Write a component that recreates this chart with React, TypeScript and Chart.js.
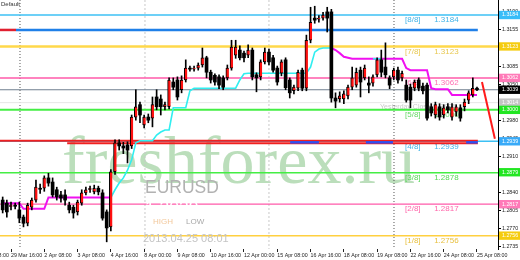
import React, { useEffect, useRef } from 'react';
import { Chart, registerables } from 'chart.js';

Chart.register(...registerables);

// ---- data (H4 bars, index 0 .. 114) ----
const opens = [
  1.2825, 1.2819, 1.2812, 1.2815, 1.2806, 1.2792, 1.2780, 1.2811, 1.2825, 1.2848,
  1.2848, 1.2868, 1.2860, 1.2845, 1.2835, 1.2835, 1.2815, 1.2811, 1.2802, 1.2819,
  1.2839, 1.2845, 1.2841, 1.2848, 1.2839, 1.2802, 1.2773, 1.2880, 1.2936, 1.2930,
  1.2932, 1.2930, 1.2986, 1.3010, 1.2971, 1.2986, 1.2984, 1.3025, 1.3021, 1.3006,
  1.3006, 1.3054, 1.3058, 1.3039, 1.3058, 1.3081, 1.3079, 1.3081, 1.3087, 1.3101,
  1.3073, 1.3067, 1.3064, 1.3062, 1.3062, 1.3081, 1.3106, 1.3116, 1.3110, 1.3106,
  1.3116, 1.3068, 1.3064, 1.3093, 1.3112, 1.3101, 1.3081, 1.3071, 1.3097, 1.3058,
  1.3037, 1.3042, 1.3077, 1.3042, 1.3135, 1.3178, 1.3176, 1.3178, 1.3190, 1.3190,
  1.3023, 1.3021, 1.3021, 1.3027, 1.3044, 1.3048, 1.3077, 1.3062, 1.3052, 1.3052,
  1.3068, 1.3097, 1.3083, 1.3062, 1.3064, 1.3077, 1.3062, 1.3048, 1.3044, 1.3042,
  1.3058, 1.3046, 1.3048, 1.3006, 1.2990, 1.3006, 1.2990, 1.3006, 1.2986, 1.2996,
  1.3004, 1.3006, 1.3019, 1.3029, 1.3042,
];
const highs = [
  1.2831, 1.2825, 1.2821, 1.2819, 1.2821, 1.2796, 1.2819, 1.2829, 1.2864, 1.2856,
  1.2872, 1.2877, 1.2868, 1.2850, 1.2842, 1.2845, 1.2821, 1.2815, 1.2825, 1.2845,
  1.2850, 1.2852, 1.2854, 1.2852, 1.2845, 1.2806, 1.2884, 1.2942, 1.2942, 1.2937,
  1.2938, 1.2990, 1.3039, 1.3015, 1.2990, 1.2992, 1.3025, 1.3039, 1.3029, 1.3015,
  1.3062, 1.3062, 1.3064, 1.3066, 1.3097, 1.3085, 1.3085, 1.3091, 1.3120, 1.3104,
  1.3077, 1.3070, 1.3068, 1.3066, 1.3087, 1.3135, 1.3135, 1.3124, 1.3114, 1.3126,
  1.3120, 1.3072, 1.3097, 1.3120, 1.3118, 1.3106, 1.3085, 1.3097, 1.3101, 1.3062,
  1.3048, 1.3077, 1.3081, 1.3145, 1.3199, 1.3201, 1.3183, 1.3189, 1.3199, 1.3195,
  1.3033, 1.3035, 1.3037, 1.3048, 1.3083, 1.3081, 1.3083, 1.3087, 1.3064, 1.3068,
  1.3101, 1.3116, 1.3130, 1.3066, 1.3081, 1.3083, 1.3075, 1.3058, 1.3050, 1.3058,
  1.3062, 1.3052, 1.3052, 1.3012, 1.3015, 1.3012, 1.3010, 1.3012, 1.3012, 1.3010,
  1.3010, 1.3021, 1.3037, 1.3062, 1.3044,
];
const lows = [
  1.2800, 1.2792, 1.2806, 1.2808, 1.2781, 1.2773, 1.2775, 1.2806, 1.2821, 1.2838,
  1.2842, 1.2852, 1.2831, 1.2825, 1.2821, 1.2815, 1.2800, 1.2790, 1.2796, 1.2815,
  1.2835, 1.2840, 1.2837, 1.2835, 1.2786, 1.2744, 1.2765, 1.2875, 1.2922, 1.2915,
  1.2897, 1.2925, 1.2980, 1.2975, 1.2965, 1.2975, 1.2967, 1.3000, 1.2990, 1.3000,
  1.3002, 1.3039, 1.3019, 1.3033, 1.3054, 1.3075, 1.3075, 1.3077, 1.3083, 1.3062,
  1.3052, 1.3048, 1.3041, 1.3039, 1.3058, 1.3077, 1.3100, 1.3097, 1.3093, 1.3101,
  1.3058, 1.3035, 1.3058, 1.3089, 1.3087, 1.3073, 1.3048, 1.3066, 1.3039, 1.3023,
  1.3031, 1.3037, 1.3037, 1.3037, 1.3130, 1.3168, 1.3170, 1.3174, 1.3151, 1.3015,
  1.3004, 1.3015, 1.3012, 1.3021, 1.3039, 1.3044, 1.3025, 1.3058, 1.3033, 1.3046,
  1.3064, 1.3064, 1.3062, 1.3041, 1.3058, 1.3052, 1.3056, 1.3015, 1.3004, 1.3037,
  1.3037, 1.3031, 1.2980, 1.2988, 1.2984, 1.2980, 1.2984, 1.2994, 1.2980, 1.2988,
  1.2978, 1.2998, 1.3012, 1.3025, 1.3037,
];
const closes = [
  1.2806, 1.2802, 1.2815, 1.2813, 1.2790, 1.2780, 1.2815, 1.2825, 1.2850, 1.2846,
  1.2868, 1.2858, 1.2835, 1.2831, 1.2829, 1.2825, 1.2806, 1.2800, 1.2821, 1.2839,
  1.2845, 1.2848, 1.2848, 1.2841, 1.2790, 1.2771, 1.2880, 1.2936, 1.2930, 1.2926,
  1.2922, 1.2986, 1.3006, 1.2990, 1.2986, 1.2980, 1.3010, 1.3006, 1.3006, 1.3010,
  1.3058, 1.3044, 1.3025, 1.3058, 1.3081, 1.3079, 1.3081, 1.3087, 1.3101, 1.3073,
  1.3058, 1.3054, 1.3048, 1.3044, 1.3081, 1.3122, 1.3122, 1.3101, 1.3101, 1.3116,
  1.3064, 1.3062, 1.3093, 1.3112, 1.3093, 1.3077, 1.3054, 1.3093, 1.3043, 1.3033,
  1.3044, 1.3073, 1.3042, 1.3135, 1.3170, 1.3174, 1.3178, 1.3184, 1.3178, 1.3023,
  1.3017, 1.3027, 1.3031, 1.3044, 1.3062, 1.3073, 1.3054, 1.3081, 1.3048, 1.3064,
  1.3097, 1.3073, 1.3068, 1.3048, 1.3077, 1.3058, 1.3071, 1.3019, 1.3019, 1.3054,
  1.3042, 1.3037, 1.2984, 1.2994, 1.3010, 1.2986, 1.3004, 1.3000, 1.3006, 1.3006,
  1.2984, 1.3015, 1.3033, 1.3042, 1.3039,
];

// trailing-stop line: down (magenta) and up (cyan) parts
const trendDown = [
  1.2819, 1.2819, 1.2819, 1.2819, 1.2819, 1.2808, 1.2808, 1.2808, 1.2808, 1.2808,
  1.2808, 1.2830, 1.2830, 1.2830, 1.2830, 1.2830, 1.2830, 1.2830, 1.2830, 1.2830,
  1.2830, 1.2830, 1.2830, 1.2830, 1.2830, 1.2830, 1.2830, null, null, null,
  null, null, null, null, null, null, null, null, null, null,
  null, null, null, null, null, null, null, null, null, null,
  null, null, null, null, null, null, null, null, null, null,
  null, null, null, null, null, null, null, null, null, null,
  null, null, null, null, null, null, null, null, null, 1.3120,
  1.3116, 1.3110, 1.3103, 1.3101, 1.3099, 1.3099, 1.3099, 1.3099, 1.3099, 1.3099,
  1.3099, 1.3099, 1.3099, 1.3099, 1.3099, 1.3099, 1.3099, 1.3081, 1.3077, 1.3077,
  1.3077, 1.3077, 1.3077, 1.3042, 1.3040, 1.3040, 1.3040, 1.3040, 1.3029, 1.3029,
  1.3029, 1.3029, 1.3029, 1.3029, 1.3029,
];
const trendUp = [
  null, null, null, null, null, null, null, null, null, null,
  null, null, null, null, null, null, null, null, null, null,
  null, null, null, null, null, null, 1.2830, 1.2845, 1.2858, 1.2868,
  1.2883, 1.2903, 1.2936, 1.2940, 1.2940, 1.2940, 1.2940, 1.2951, 1.2957, 1.2961,
  1.2961, 1.3004, 1.3004, 1.3004, 1.3004, 1.3037, 1.3042, 1.3042, 1.3042, 1.3042,
  1.3042, 1.3042, 1.3042, 1.3042, 1.3042, 1.3042, 1.3042, 1.3058, 1.3070, 1.3071,
  1.3071, 1.3071, 1.3071, 1.3071, 1.3071, 1.3071, 1.3071, 1.3071, 1.3071, 1.3071,
  1.3071, 1.3071, 1.3071, 1.3071, 1.3083, 1.3112, 1.3118, 1.3120, 1.3120, 1.3120,
  null, null, null, null, null, null, null, null, null, 1.3099,
  1.3099, 1.3099, null, null, null, null, null, null, null, null,
  null, null, null, null, null, null, null, null, null, null,
  null, null, null, null, null,
];

// Murrey math levels
const murreyLabels = ['[8/8]', '[7/8]', '[6/8]', '[5/8]', '[4/8]', '[3/8]', '[2/8]', '[1/8]'];
const murreyValues = [1.3184, 1.3123, 1.3062, 1.3000, 1.2939, 1.2878, 1.2817, 1.2756];

// other horizontal levels
const blueLevel = 1.3155;
const bidLevel = 1.3039;
const prevCloseLevel = 1.3014;
const redLevelA = 1.2940;
const redLevelB = 1.2935;
const yesterdayCloseText = 'Yesterday Close  1.3005';

// projection line (bar index, price)
const projX = [115.2, 118.3];
const projY = [1.3054, 1.2944];

// x axis (bar index of ticks and their labels)
const xTickIdx = [-6, 2, 10, 18, 26, 34, 42, 50, 58, 66, 74, 82, 90, 98, 106, 114];
const xTickLabels = [
  '28 Mar 08:00', '29 Mar 16:00', '2 Apr 08:00', '3 Apr 08:00', '4 Apr 16:00',
  '8 Apr 00:00', '9 Apr 08:00', '10 Apr 16:00', '12 Apr 00:00', '15 Apr 08:00',
  '16 Apr 16:00', '18 Apr 08:00', '19 Apr 08:00', '22 Apr 16:00', '24 Apr 08:00',
  '25 Apr 08:00',
];

// y axis ticks
const yPlainTicks = [1.3190, 1.3155, 1.3120, 1.3085, 1.3050, 1.3015, 1.2980, 1.2945,
  1.2910, 1.2875, 1.2840, 1.2805, 1.2770, 1.2735];
const yMarkedTicks = [1.3184, 1.3123, 1.3062, 1.3039, 1.3014, 1.3000, 1.2939, 1.2879, 1.2817, 1.2756];

// period separators (bar index)
const sepIdx = [4.16, 34.2, 64.0, 94.05];

// ---- styles ----
const X_MIN = -0.644;
const X_MAX = 119.05;
const Y_MIN = 1.27301;
const Y_MAX = 1.32131;
const murreyLineColors = ['#3cc0f4', '#ffd84a', '#ff5aaa', '#44ee44', '#3cc0f4', '#44ee44', '#ff5aaa', '#ffd040'];
const murreyLineWidths = [1.5, 2.5, 1.5, 2, 1.5, 1.5, 1.2, 1.5];
const murreyTextColors = ['#44b4e8', '#e8c850', '#ff70b4', '#66d866', '#44b4e8', '#55d855', '#ff66aa', '#e8c040'];
const markedBg = ['#38bdf8', '#f5cc10', '#ff7ab8', '#000000', '#c4c4c4', '#22e622', '#38aaf8', '#22e622', '#ff7ab8', '#f5cc10'];
const sepColors = ['#555555', '#c8c8c8', '#c8c8c8', '#555555'];
const sepDash = [[1, 2], [2, 2], [2, 2], [1, 2]];

const FONT = '"Liberation Sans", Arial, sans-serif';

export default function App() {
  const ref = useRef<HTMLCanvasElement>(null);

  useEffect(() => {
    const canvas = ref.current;
    if (!canvas) return;
    const idx = opens.map((_, i) => i);
    const bull = idx.map((i) => closes[i] >= opens[i]);

    const hline = (v: number, x0: number, x1: number, color: string, width: number, order: number) => ({
      type: 'line' as const,
      data: [{ x: x0, y: v }, { x: x1, y: v }],
      borderColor: color,
      borderWidth: width,
      pointRadius: 0,
      fill: false,
      order,
    });

    const datasets: any[] = [];
    datasets.push({
      type: 'bar',
      data: idx.map((i) => ({ x: i, y: [opens[i], closes[i]] })),
      backgroundColor: idx.map((i) => (bull[i] ? '#ff1010' : '#000000')),
      borderColor: '#000000',
      borderWidth: idx.map((i) => (bull[i] ? { left: 1, right: 0, top: 1, bottom: 1 } : 0)),
      borderSkipped: false,
      barThickness: 3,
      minBarLength: 1,
      grouped: false,
      order: 0,
    });
    datasets.push({
      type: 'bar',
      data: idx.map((i) => ({ x: i, y: [lows[i], highs[i]] })),
      backgroundColor: '#000000',
      barThickness: 1,
      grouped: false,
      order: 1,
    });
    datasets.push({
      type: 'line',
      data: idx.map((i) => ({ x: i, y: trendUp[i] })),
      borderColor: '#30eef0',
      borderWidth: 1.6,
      pointRadius: 0,
      spanGaps: false,
      order: 2,
    });
    datasets.push({
      type: 'line',
      data: idx.map((i) => ({ x: i, y: trendDown[i] })),
      borderColor: '#f010f0',
      borderWidth: 2,
      pointRadius: 0,
      spanGaps: false,
      order: 3,
    });
    datasets.push({
      type: 'line',
      data: projX.map((x, k) => ({ x, y: projY[k] })),
      borderColor: '#ff1a1a',
      borderWidth: 2,
      pointRadius: 0,
      order: 4,
    });
    datasets.push(hline(1.2937, 69.1, 76.0, '#2f4ff0', 2.5, 5));
    datasets.push(hline(1.2937, 87.3, 93.8, '#2f4ff0', 2.5, 5));
    datasets.push(hline(1.2937, 111.4, 114.2, '#2f4ff0', 2.5, 5));
    datasets.push(hline(redLevelA, X_MIN, 114.2, '#f02020', 2, 6));
    datasets.push(hline(redLevelB, 15.5, 114.2, '#f02020', 2, 6));
    datasets.push(hline(blueLevel, 3.2, 114.2, '#2080e8', 2.5, 7));
    datasets.push(hline(blueLevel, X_MIN, 3.2, '#e02030', 2.5, 7));
    murreyValues.forEach((v, k) => {
      datasets.push(hline(v, X_MIN, X_MAX, murreyLineColors[k], murreyLineWidths[k], 8));
    });
    datasets.push(hline(bidLevel, X_MIN, X_MAX, '#6f7f8f', 1, 8));
    datasets.push(hline(prevCloseLevel, X_MIN, X_MAX, '#e6e6e6', 1, 9));
    sepIdx.forEach((s, k) => {
      datasets.push({
        type: 'line',
        data: [{ x: s, y: Y_MAX }, { x: s, y: Y_MIN }],
        borderColor: sepColors[k],
        borderWidth: 1,
        borderDash: sepDash[k],
        pointRadius: 0,
        order: 10,
      });
    });

    const textPlugin = {
      id: 'texts',
      beforeDatasetsDraw(chart: any) {
        const { ctx, scales } = chart;
        const xs = scales.x;
        const ys = scales.y;
        ctx.save();
        ctx.font = `68px "Liberation Serif", serif`;
        ctx.fillStyle = 'rgba(105, 182, 105, 0.45)';
        ctx.textBaseline = 'alphabetic';
        ctx.textAlign = 'left';
        ctx.fillText('freshforex.ru', 62, 183);

        ctx.font = `8px ${FONT}`;
        ctx.textBaseline = 'middle';
        murreyValues.forEach((v, k) => {
          const py = ys.getPixelForValue(v) + 5;
          ctx.fillStyle = murreyTextColors[k];
          ctx.fillText(murreyLabels[k], xs.getPixelForValue(96.7), py);
          ctx.fillText(v.toFixed(4), xs.getPixelForValue(103.7), py);
        });
        ctx.font = `7px ${FONT}`;
        ctx.fillStyle = '#c8c8c8';
        ctx.fillText(yesterdayCloseText, xs.getPixelForValue(90.7), ys.getPixelForValue(1.3005));
        ctx.restore();
      },
      afterDatasetsDraw(chart: any) {
        const { ctx } = chart;
        ctx.save();
        ctx.textAlign = 'left';
        ctx.textBaseline = 'alphabetic';
        ctx.font = `17.5px ${FONT}`;
        ctx.fillStyle = '#b2b2b2';
        ctx.fillText('EURUSD', 145, 193);
        ctx.fillStyle = '#ffffff';
        ctx.fillText('1.3039', 145, 214);
        ctx.font = `8px ${FONT}`;
        ctx.fillStyle = '#f2c89c';
        ctx.fillText('HIGH', 153, 224);
        ctx.fillStyle = '#a8a8a8';
        ctx.fillText('LOW', 186, 224);
        ctx.font = `11px ${FONT}`;
        ctx.fillStyle = '#c4c4c4';
        ctx.fillText('2013.04.25 08:01', 143, 242);
        ctx.font = `6px ${FONT}`;
        ctx.fillStyle = '#333333';
        ctx.fillText('Default', 1, 6);
        ctx.restore();
      },
    };

    const chart = new Chart(canvas, {
      type: 'bar',
      data: { datasets },
      plugins: [textPlugin],
      options: {
        animation: false,
        responsive: false,
        devicePixelRatio: 1,
        events: [],
        layout: { autoPadding: false, padding: 0 },
        plugins: { legend: { display: false }, tooltip: { enabled: false } },
        scales: {
          x: {
            type: 'linear',
            position: 'bottom',
            min: X_MIN,
            max: X_MAX,
            offset: false,
            grid: { display: true, drawOnChartArea: false, drawTicks: true, tickLength: 3, color: '#222', offset: false },
            border: { display: false },
            afterBuildTicks: (scale: any) => {
              scale.ticks = xTickIdx.map((v) => ({ value: v }));
            },
            afterFit: (scale: any) => {
              scale.height = 11;
              scale.paddingLeft = 0;
              scale.paddingRight = 0;
              scale.paddingTop = 0;
              scale.paddingBottom = 0;
            },
            ticks: {
              autoSkip: false,
              maxRotation: 0,
              minRotation: 0,
              align: 'start',
              padding: 0,
              color: '#222',
              font: { size: 5.3, family: FONT },
              callback: (_v: any, i: number) => xTickLabels[i],
            },
          },
          y: {
            type: 'linear',
            position: 'right',
            min: Y_MIN,
            max: Y_MAX,
            beginAtZero: false,
            grid: { display: true, drawOnChartArea: false, drawTicks: true, tickLength: 3, color: '#000' },
            border: { display: true, color: '#000', width: 1 },
            afterBuildTicks: (scale: any) => {
              scale.ticks = [...yPlainTicks, ...yMarkedTicks].map((v) => ({ value: v }));
            },
            afterFit: (scale: any) => {
              scale.width = 22;
              scale.paddingLeft = 0;
              scale.paddingRight = 0;
              scale.paddingTop = 0;
              scale.paddingBottom = 0;
            },
            ticks: {
              autoSkip: false,
              padding: 1,
              font: { size: 5.3, family: FONT },
              color: (c: any) => (yMarkedTicks.includes(c.tick.value) ? '#ffffff' : '#222222'),
              showLabelBackdrop: (c: any) => yMarkedTicks.includes(c.tick.value),
              backdropColor: (c: any) => {
                const k = yMarkedTicks.indexOf(c.tick.value);
                return k >= 0 ? markedBg[k] : 'rgba(0,0,0,0)';
              },
              backdropPadding: { left: 3, right: 6, top: 1, bottom: 1 },
              callback: (v: any) => Number(v).toFixed(4),
            },
          },
        },
      } as any,
    });
    return () => chart.destroy();
  }, []);

  return (
    <div style={{ position: 'absolute', left: 0, top: 0, width: 520, height: 260, background: '#fff' }}>
      <canvas ref={ref} width={520} height={260} style={{ display: 'block' }} />
    </div>
  );
}
